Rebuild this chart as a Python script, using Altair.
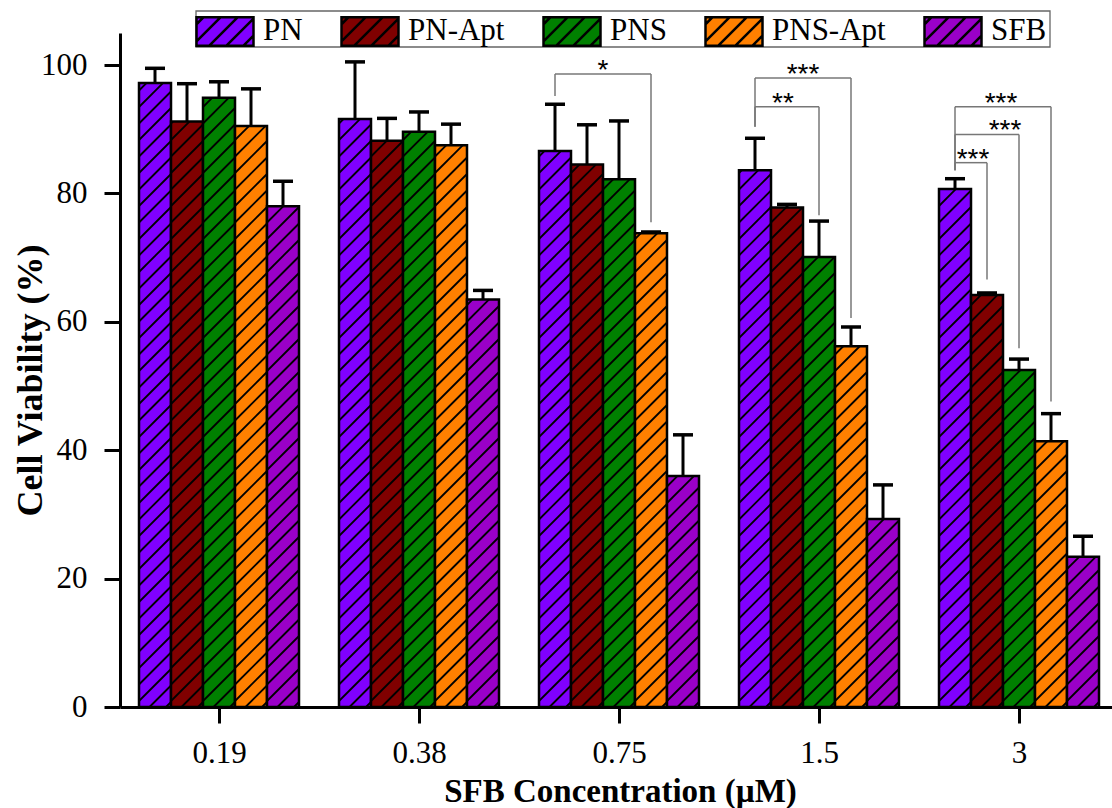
import json
import numpy as np
import pandas as pd
import altair as alt

# ---------------- data ----------------
conc = ["0.19", "0.38", "0.75", "1.5", "3"]
series = ["PN", "PN-Apt", "PNS", "PNS-Apt", "SFB"]
colors = ["#8000FF", "#800000", "#008000", "#FF8000", "#9A00C8"]

pn = [97.2, 91.6, 86.6, 83.6, 80.7]
pn_apt = [91.2, 88.2, 84.5, 77.8, 64.2]
pns = [94.9, 89.6, 82.2, 70.1, 52.5]
pns_apt = [90.5, 87.5, 73.8, 56.2, 41.4]
sfb = [78.0, 63.5, 36.0, 29.3, 23.4]

pn_err = [2.3, 8.9, 7.3, 5.0, 1.6]
pn_apt_err = [5.9, 3.5, 6.2, 0.5, 0.3]
pns_err = [2.5, 3.1, 9.1, 5.6, 1.7]
pns_apt_err = [5.8, 3.3, 0.2, 3.0, 4.3]
sfb_err = [3.9, 1.4, 6.4, 5.3, 3.2]

# significance brackets
br_group = [2, 3, 3, 4, 4, 4]
br_from = [0, 0, 0, 0, 0, 0]
br_to = [3, 3, 2, 3, 2, 1]
br_top = [98.6, 98.0, 93.5, 93.5, 89.2, 84.8]
br_left_bottom = [95.2, 90.4, 90.4, 83.6, 83.6, 83.6]
br_right_bottom = [75.5, 60.6, 76.6, 47.6, 55.9, 66.6]
br_label = ["*", "***", "**", "***", "***", "***"]

# ---------------- layout ----------------
W, H = 992, 674
X_DOM = [-0.495, 4.465]
Y_DOM = [0, 105]
PXX = W / (X_DOM[1] - X_DOM[0])
PXY = H / (Y_DOM[1] - Y_DOM[0])
BAR_W = 32 / PXX
STAR_SHIFT_PX = [0, 0, -4, -2, 18, 2]

means = [pn, pn_apt, pns, pns_apt, sfb]
errs = [pn_err, pn_apt_err, pns_err, pns_apt_err, sfb_err]

rows = []
for j, s in enumerate(series):
    for g in range(len(conc)):
        c = g + (j - 2) * BAR_W
        rows.append(dict(series=s, g=g, center=c, left=c - BAR_W / 2, right=c + BAR_W / 2,
                         mean=means[j][g], top=means[j][g] + errs[j][g],
                         capl=c - 10 / PXX, capr=c + 10 / PXX, zero=0))
bars = pd.DataFrame(rows)

# hatch segments (45 deg in pixel space)
SP = 16.5
hrows = []
for r in rows:
    w = 32.0
    h = r["mean"] * PXY
    k0 = int(np.floor(-w / SP)) - 1
    k1 = int(np.ceil(h / SP)) + 1
    for k in range(k0, k1):
        cc = k * SP + 6
        xs = max(0.0, -cc)
        xe = min(w, h - cc)
        if xe - xs > 0.8:
            hrows.append(dict(x=r["left"] + xs / PXX, x2=r["left"] + xe / PXX,
                              y=(xs + cc) / PXY, y2=(xe + cc) / PXY))
hatch = pd.DataFrame(hrows)

def cx(g, j):
    return g + (j - 2) * BAR_W

seg = []
stars = []
for i in range(len(br_group)):
    g = br_group[i]
    xl, xr = cx(g, br_from[i]), cx(g, br_to[i])
    seg.append(dict(x=xl, x2=xl, y=br_left_bottom[i], y2=br_top[i]))
    seg.append(dict(x=xl, x2=xr, y=br_top[i], y2=br_top[i]))
    seg.append(dict(x=xr, x2=xr, y=br_right_bottom[i], y2=br_top[i]))
    stars.append(dict(x=(xl + xr) / 2 + STAR_SHIFT_PX[i] / PXX, y=br_top[i], label=br_label[i]))
segs = pd.DataFrame(seg)
stars = pd.DataFrame(stars)

# legend swatch: rectangle with diagonal hatch, as a custom symbol path
parts = ["M-1,-0.5H1V0.5H-1Z"]
for c in np.arange(-1.75, 1.0, 0.6):
    xs, xe = max(c, -1.0), min(c + 1.0, 1.0)
    if xe - xs > 0.05:
        parts.append(f"M{xs:.3f},{0.5 - (xs - c):.3f}L{xe:.3f},{0.5 - (xe - c):.3f}")
swatch = "".join(parts)

xs_scale = alt.Scale(domain=X_DOM, nice=False, zero=False)
ys_scale = alt.Scale(domain=Y_DOM, nice=False, zero=False)

label_expr = f"{json.dumps(conc)}[datum.value]"

x_axis = alt.Axis(
    values=list(range(len(conc))), labelExpr=label_expr, title="SFB Concentration (µM)",
    grid=False, domainColor="black", domainWidth=3, tickColor="black", tickWidth=3,
    tickSize=16, labelFont="Liberation Serif", labelFontSize=31, labelColor="black",
    labelPadding=15, titleFont="Liberation Serif", titleFontSize=33, titleFontWeight="bold",
    titleColor="black", titleX=500, titleY=94, titleBaseline="alphabetic", titleAlign="center")
y_axis = alt.Axis(
    values=[0, 20, 40, 60, 80, 100], format="d", title="Cell Viability (%)",
    grid=False, domainColor="black", domainWidth=3, tickColor="black", tickWidth=3,
    tickSize=16, labelFont="Liberation Serif", labelFontSize=31, labelColor="black",
    labelPadding=17, titleFont="Liberation Serif", titleFontSize=36, titleFontWeight="bold",
    titleColor="black", titleAngle=270, titleX=-90, titleY=347, titleAlign="center",
    titleBaseline="middle")

bar_layer = alt.Chart(bars).mark_rect(stroke="black", strokeWidth=2.5).encode(
    x=alt.X("left:Q", scale=xs_scale, axis=x_axis),
    x2="right:Q",
    y=alt.Y("mean:Q", scale=ys_scale, axis=y_axis),
    y2="zero:Q",
    fill=alt.Fill("series:N", scale=alt.Scale(domain=series, range=colors), legend=alt.Legend(
        title=None, orient="none", legendX=75, legendY=-32, direction="horizontal", columns=5,
        symbolType=swatch, symbolSize=3249, symbolStrokeColor="black", symbolStrokeWidth=2.5,
        labelFont="Liberation Serif", labelFontSize=31, labelColor="black", labelOffset=8,
        labelLimit=400, columnPadding=33, padding=0)),
)

hatch_layer = alt.Chart(hatch).mark_rule(color="black", strokeWidth=1.8).encode(
    x=alt.X("x:Q", scale=xs_scale, axis=x_axis), x2="x2:Q",
    y=alt.Y("y:Q", scale=ys_scale, axis=y_axis), y2="y2:Q")

err_layer = alt.Chart(bars).mark_rule(color="black", strokeWidth=3).encode(
    x=alt.X("center:Q", scale=xs_scale, axis=x_axis),
    y=alt.Y("mean:Q", scale=ys_scale, axis=y_axis), y2="top:Q")

cap_layer = alt.Chart(bars).mark_rule(color="black", strokeWidth=3.5).encode(
    x=alt.X("capl:Q", scale=xs_scale, axis=x_axis), x2="capr:Q",
    y=alt.Y("top:Q", scale=ys_scale, axis=y_axis))

br_layer = alt.Chart(segs).mark_rule(color="#777777", strokeWidth=1.5).encode(
    x=alt.X("x:Q", scale=xs_scale, axis=x_axis), x2="x2:Q",
    y=alt.Y("y:Q", scale=ys_scale, axis=y_axis), y2="y2:Q")

star_layer = alt.Chart(stars).mark_text(font="Liberation Sans", fontSize=28, color="black",
                                         baseline="alphabetic", dy=5).encode(
    x=alt.X("x:Q", scale=xs_scale, axis=x_axis),
    y=alt.Y("y:Q", scale=ys_scale, axis=y_axis), text="label:N")

# frame around the legend
frame_layer = alt.Chart(pd.DataFrame({"k": [0]})).mark_rect(
    fill=None, filled=False, stroke="#666666", strokeWidth=1.3).encode(
    x=alt.value(76), x2=alt.value(930), y=alt.value(-22), y2=alt.value(14))

chart = alt.layer(bar_layer, hatch_layer, err_layer, cap_layer, br_layer, star_layer,
                  frame_layer).properties(
    width=W, height=H,
    autosize=alt.AutoSizeParams(type="none"),
    padding={"left": 120, "top": 33, "right": 0, "bottom": 101},
    background="white",
).configure_view(stroke=None)

chart.save("out.html", embed_options={"renderer": "svg", "actions": False})
